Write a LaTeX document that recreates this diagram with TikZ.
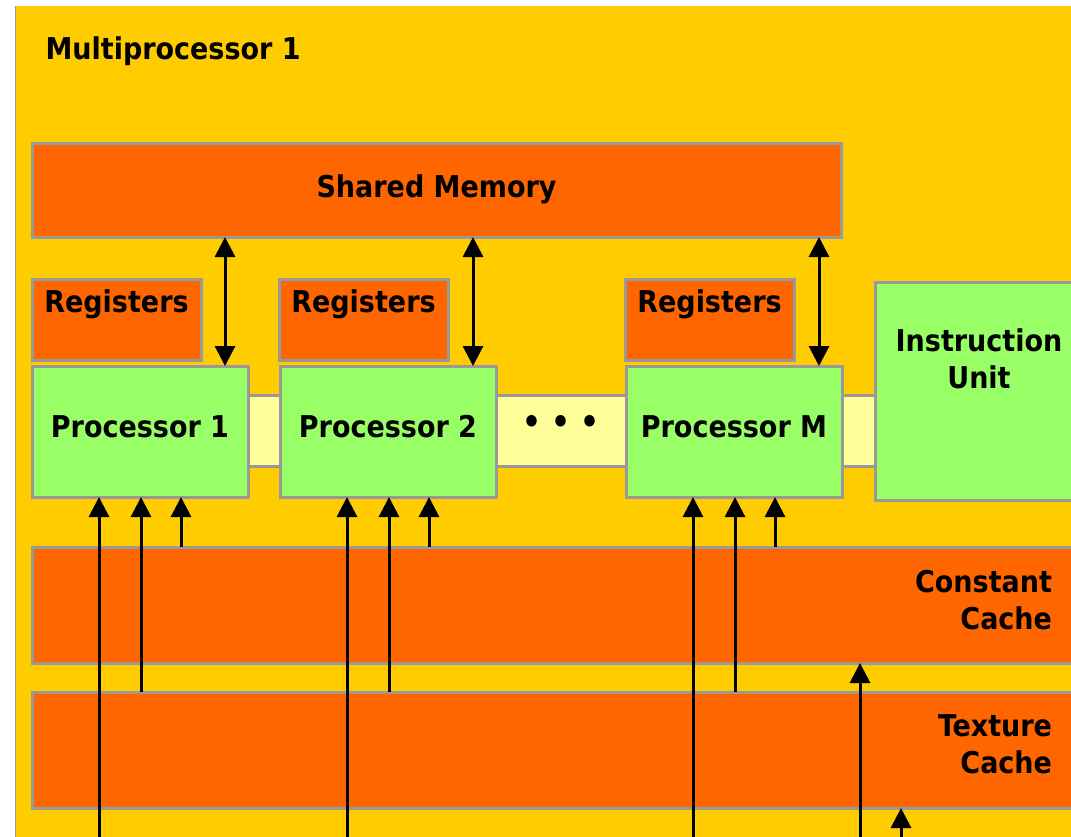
\documentclass[tikz,border=0pt]{standalone}
\usepackage{fontspec}
\newfontfamily\tahoma{DejaVu Sans Condensed Bold}
\usetikzlibrary{arrows.meta, positioning}
\definecolor{mpyellow}{HTML}{FFCC00}
\definecolor{memorange}{HTML}{FF6600}
\definecolor{procgreen}{HTML}{99FF66}
\definecolor{buspale}{HTML}{FFFF99}
\definecolor{edgegray}{HTML}{999999}

\begin{document}
\begin{tikzpicture}[x=1pt, y=-1pt,
    font=\tahoma\fontsize{30}{37}\selectfont,
    box/.style={draw=edgegray, line width=3pt, inner sep=0pt, outer sep=0pt, anchor=north west},
    mem/.style={box, fill=memorange},
    reg/.style={mem, minimum width=169pt, text height=33pt, text depth=48pt},
    proc/.style={box, fill=procgreen, minimum width=216pt, text height=71pt, text depth=60pt},
    bus/.style={box, fill=buspale, text height=38pt, text depth=33pt},
    up/.style={line width=3pt, -{Triangle[width=20pt,length=20pt]}},
    both/.style={line width=3pt, {Triangle[width=20pt,length=20pt]}-{Triangle[width=20pt,length=20pt]}}]
    \clip (0,0) rectangle (1071,836);
    \fill[mpyellow] (15,6) rectangle (1090,850);
    \draw[edgegray, line width=1pt] (15,850) -- (15,6);

    \node[anchor=base west] (title) at (42,59) {Multiprocessor 1};

    \node[mem, minimum width=809pt, text height=54pt, text depth=40pt] (sm) at (32,143) {Shared Memory};

    \node[reg] (r1) at (32,279) {Registers};
    \node[reg] (r2) at (279,279) {Registers};
    \node[reg] (rM) at (625,279) {Registers};

    % buses sit behind the processors
    \node[bus, minimum width=36pt] (b1) at (246,395) {};
    \node[bus, minimum width=134pt] (b2) at (494,395) {\fontsize{33}{37}\selectfont • • •};
    \node[bus, minimum width=38pt] (b3) at (839,395) {};

    \node[proc] (p1) at (32,366) {Processor 1};
    \node[proc] (p2) [right=32pt of p1] {Processor 2};
    \node[proc] (pM) [right=130pt of p2] {Processor M};

    \node[box, fill=procgreen, text width=208pt, align=center, text height=69pt, text depth=149pt] (iu) at (875,282) {Instruction\\Unit};

    \node[mem, text width=982pt, inner xsep=38pt, align=right, text height=45pt, text depth=71pt] (cc) at (32,547) {Constant\\Cache};
    \node[mem, text width=982pt, inner xsep=38pt, align=right, text height=44pt, text depth=72pt] (tc) at (32,692) {Texture\\Cache};

    \coordinate (floor) at (0,845);
    \foreach \p in {p1,p2,pM} {
        \coordinate (a\p) at ([xshift=67pt]\p.south west);
        \coordinate (b\p) at ([xshift=109pt]\p.south west);
        \coordinate (c\p) at ([xshift=149pt]\p.south west);
        \coordinate (d\p) at ([xshift=193pt]\p.north west);
        \draw[up] (a\p |- floor) -- (a\p);
        \draw[up] (b\p |- tc.north) -- (b\p);
        \draw[up] (c\p |- cc.north) -- (c\p);
        \draw[both] (d\p |- sm.south) -- (d\p);
    }
    \coordinate (k1) at (860,845);
    \coordinate (k2) at (901,845);
    \draw[up] (k1) -- (k1 |- cc.south);
    \draw[up] (k2) -- (k2 |- tc.south);
\end{tikzpicture}
\end{document}
